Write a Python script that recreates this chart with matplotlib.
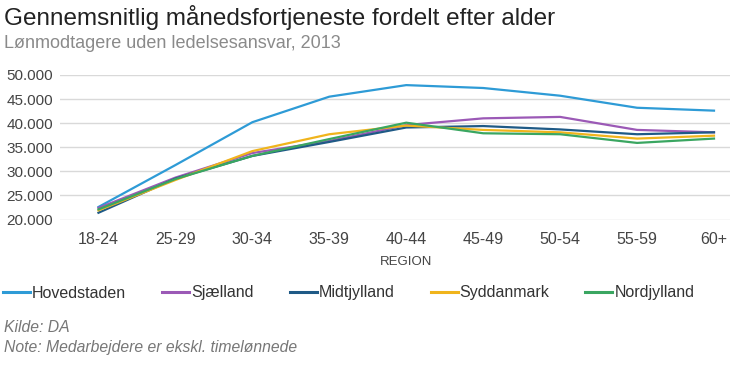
import matplotlib
matplotlib.use("Agg")
import matplotlib.pyplot as plt
from matplotlib.ticker import FuncFormatter

categories = ["18-24", "25-29", "30-34", "35-39", "40-44", "45-49", "50-54", "55-59", "60+"]
hovedstaden = [22600, 31300, 40200, 45500, 47900, 47300, 45700, 43200, 42600]
sjaelland    = [22400, 28700, 33800, 36300, 39600, 41000, 41300, 38600, 38100]
midtjylland  = [21400, 28500, 33200, 36100, 39100, 39400, 38700, 37700, 38100]
syddanmark   = [21900, 28200, 34200, 37700, 39500, 38600, 38100, 36800, 37400]
nordjylland  = [22100, 28400, 33200, 36700, 40100, 37900, 37700, 35900, 36800]
series_names = ["Hovedstaden", "Sjælland", "Midtjylland", "Syddanmark", "Nordjylland"]
yticks = [20000, 25000, 30000, 35000, 40000, 45000, 50000]

colors = ["#2e9bd6", "#9b59b6", "#1f5a86", "#f0b41c", "#3aa661"]

plt.rcParams['font.family'] = ['Liberation Sans', 'DejaVu Sans']

W, H = 730, 365
fig = plt.figure(figsize=(W / 100, H / 100), dpi=100)

def fx(px):
    return px / W

def fy(py):
    return 1 - py / H

ncat = len(categories)
left, top, bottom = 60, 75, 219.5
last_center = 714
cw = (last_center - left) / (ncat - 0.5)
right = left + cw * ncat
ax = fig.add_axes([fx(left), fy(bottom), fx(right - left), (bottom - top) / H])

data = [hovedstaden, sjaelland, midtjylland, syddanmark, nordjylland]
x = list(range(ncat))
for name, vals, c in zip(series_names, data, colors):
    ax.plot(x, vals, color=c, lw=1.6, label=name, solid_joinstyle='round')

ax.set_xlim(-0.5, ncat - 0.5)
ax.set_ylim(yticks[0], yticks[-1])
ax.set_yticks(yticks)
ax.yaxis.set_major_formatter(FuncFormatter(lambda v, p: f"{int(v):,}".replace(",", ".")))
ax.set_xticks(x)
ax.set_xticklabels(categories)
ax.grid(axis='y', color='#d9d9d9', lw=1)
ax.set_axisbelow(True)
for s in ax.spines.values():
    s.set_visible(False)
ax.tick_params(axis='y', length=0, pad=5, labelsize=11, labelcolor='#444444')
ax.tick_params(axis='x', length=0, pad=9, labelsize=11.5, labelcolor='#444444')

fig.text(fx(left + (last_center - left) / 2 + cw / 4), fy(262), "REGION", ha='center', va='center',
         fontsize=9.5, color='#444444')

fig.text(fx(4), fy(25), "Gennemsnitlig månedsfortjeneste fordelt efter alder",
         ha='left', va='baseline', fontsize=17.5, color='#222222')
fig.text(fx(4), fy(48), "Lønmodtagere uden ledelsesansvar, 2013",
         ha='left', va='baseline', fontsize=13, color='#8a8a8a')

fig.text(fx(4), fy(332), "Kilde: DA", ha='left', va='baseline', fontsize=11.3,
         color='#777777', style='italic')
fig.text(fx(4), fy(352), "Note: Medarbejdere er ekskl. timelønnede", ha='left', va='baseline',
         fontsize=11.3, color='#777777', style='italic')

fs = 11.5
fs_px = fs * 100 / 72
leg = fig.legend(loc='center left', bbox_to_anchor=(fx(3), fy(293)), ncol=5, frameon=False,
                 fontsize=fs, handlelength=27 / fs_px, handletextpad=2 / fs_px,
                 columnspacing=36 / fs_px, borderpad=0, borderaxespad=0, labelcolor='#333333')
for line in leg.get_lines():
    line.set_linewidth(2.2)

fig.savefig("out.png", dpi=100)
